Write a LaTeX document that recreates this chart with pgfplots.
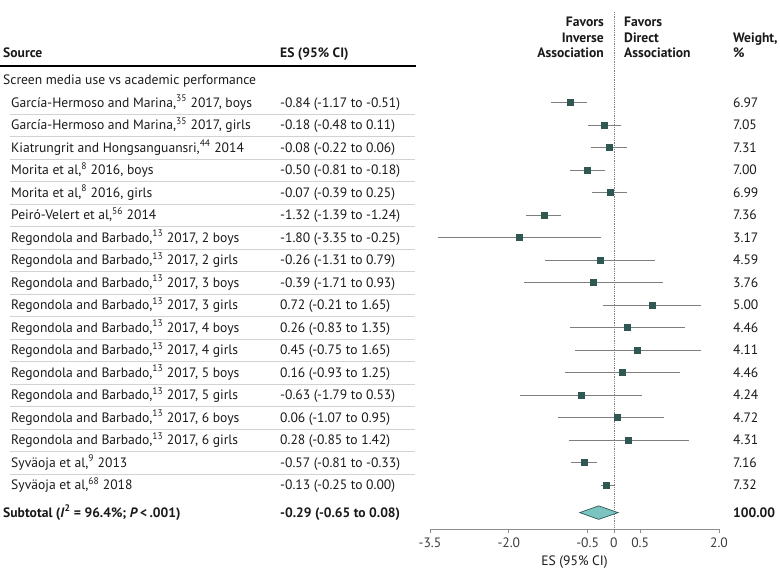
\documentclass[border=0pt]{standalone}
\usepackage{fontspec}
\setmainfont{PT Sans}
\usepackage{pgfplots}
\pgfplotsset{compat=1.18}
\usepackage{pgfplotstable}
\definecolor{sqcol}{HTML}{2F5853}
\definecolor{cicol}{HTML}{7E7E7E}
\definecolor{diafill}{HTML}{7CC4C2}
\definecolor{sepcol}{HTML}{D2D2D2}
\definecolor{axcol}{HTML}{8C8C8C}
\definecolor{txt}{HTML}{1A1A1A}
\newcommand\fs{\fontsize{13.6}{16}\selectfont}

% plotted values (as drawn in the figure)
\pgfplotstableread{
row es lo hi
1 -0.84 -1.19 -0.52
2 -0.18 -0.50 0.13
3 -0.09 -0.43 0.24
4 -0.50 -0.83 -0.17
5 -0.07 -0.41 0.25
6 -1.32 -1.68 -1.00
7 -1.80 -3.35 -0.25
8 -0.26 -1.31 0.79
9 -0.39 -1.71 0.93
10 0.72 -0.21 1.65
11 0.26 -0.83 1.35
12 0.45 -0.75 1.65
13 0.16 -0.93 1.25
14 -0.63 -1.79 0.53
15 0.06 -1.07 0.95
16 0.28 -0.85 1.42
17 -0.57 -0.81 -0.33
18 -0.14 -0.25 0.00
}\studies

\newcommand\studyrow[4]{%
  \node[anchor=base west] at (11,{495.3-22.5*#1}) {#2};
  \node[anchor=base west] at (280,{495.3-22.5*#1}) {#3};
  \node[anchor=base west] at (733,{495.3-22.5*#1}) {#4};}

\begin{document}
\begin{tikzpicture}[x=1pt,y=1pt,every node/.style={inner sep=0pt,font=\fs,text=txt}]
\useasboundingbox (0,0) rectangle (780,580);
\begin{axis}[
  at={(430pt,50.5pt)}, anchor=south west,
  scale only axis, width=289pt, height=529.5pt,
  xmin=-3.5, xmax=2.0, ymin=-19.97, ymax=3.564,
  axis x line*=bottom, axis y line=none,
  x axis line style={-, draw=axcol, line width=0.8pt},
  xtick={-3.5,-2,-0.5,0,0.5,2},
  xticklabels={-3.5,-2.0,-0.5,0,0.5,2.0},
  tick align=outside, major tick length=4pt,
  tick style={draw=axcol, line width=0.8pt},
  xticklabel style={font=\fs, text=txt!85, anchor=center, yshift=-9pt},
  xlabel={ES (95\% CI)},
  xlabel style={font=\fs, anchor=center, at={(axis description cs:0.5,0)}, yshift=-32.5pt},
  clip=false,
]
\addplot[densely dotted, draw=gray, line width=0.8pt, forget plot] coordinates {(0,-19.97) (0,3.03)};
\addplot[only marks, mark=square*, mark size=3pt, mark options={fill=sqcol, draw=sqcol},
  error bars/.cd, x dir=both, x explicit, error mark=none,
  error bar style={line width=0.9pt, draw=cicol}]
  table[x=es, y expr=-\thisrow{row},
        x error plus expr=\thisrow{hi}-\thisrow{es},
        x error minus expr=\thisrow{es}-\thisrow{lo}] {\studies};
\addplot[fill=diafill, draw=sqcol, line width=0.7pt] coordinates {(-0.65,-19.22) (-0.29,-18.92) (0.08,-19.22) (-0.29,-19.52)} -- cycle;
\end{axis}

% header
\node[anchor=base west] at (3,522.5) {\bfseries Source};
\node[anchor=base west] at (280,522.5) {\bfseries ES (95\% CI)};
\node[anchor=base east] at (604,553.5) {\bfseries Favors};
\node[anchor=base east] at (604,537.5) {\bfseries Inverse};
\node[anchor=base east] at (604,522.5) {\bfseries Association};
\node[anchor=base west] at (624,553.5) {\bfseries Favors};
\node[anchor=base west] at (624,537.5) {\bfseries Direct};
\node[anchor=base west] at (624,522.5) {\bfseries Association};
\node[anchor=base west] at (733,537.5) {\bfseries Weight,};
\node[anchor=base west] at (733,522.5) {\bfseries \%};
\draw[line width=1.2pt, black] (0,514) -- (416,514);
\node[anchor=base west] at (3,495.3) {Screen media use vs academic performance};

% separators
\foreach \k in {1,...,17} {\draw[sepcol, line width=0.8pt] (10,{488.55-22.5*\k}) -- (415,{488.55-22.5*\k});}

\studyrow{1}{García-Hermoso and Marina,\textsuperscript{35} 2017, boys}{-0.84 (-1.17 to -0.51)}{6.97}
\studyrow{2}{García-Hermoso and Marina,\textsuperscript{35} 2017, girls}{-0.18 (-0.48 to 0.11)}{7.05}
\studyrow{3}{Kiatrungrit and Hongsanguansri,\textsuperscript{44} 2014}{-0.08 (-0.22 to 0.06)}{7.31}
\studyrow{4}{Morita et al,\textsuperscript{8} 2016, boys}{-0.50 (-0.81 to -0.18)}{7.00}
\studyrow{5}{Morita et al,\textsuperscript{8} 2016, girls}{-0.07 (-0.39 to 0.25)}{6.99}
\studyrow{6}{Peiró-Velert et al,\textsuperscript{56} 2014}{-1.32 (-1.39 to -1.24)}{7.36}
\studyrow{7}{Regondola and Barbado,\textsuperscript{13} 2017, 2 boys}{-1.80 (-3.35 to -0.25)}{3.17}
\studyrow{8}{Regondola and Barbado,\textsuperscript{13} 2017, 2 girls}{-0.26 (-1.31 to 0.79)}{4.59}
\studyrow{9}{Regondola and Barbado,\textsuperscript{13} 2017, 3 boys}{-0.39 (-1.71 to 0.93)}{3.76}
\studyrow{10}{Regondola and Barbado,\textsuperscript{13} 2017, 3 girls}{0.72 (-0.21 to 1.65)}{5.00}
\studyrow{11}{Regondola and Barbado,\textsuperscript{13} 2017, 4 boys}{0.26 (-0.83 to 1.35)}{4.46}
\studyrow{12}{Regondola and Barbado,\textsuperscript{13} 2017, 4 girls}{0.45 (-0.75 to 1.65)}{4.11}
\studyrow{13}{Regondola and Barbado,\textsuperscript{13} 2017, 5 boys}{0.16 (-0.93 to 1.25)}{4.46}
\studyrow{14}{Regondola and Barbado,\textsuperscript{13} 2017, 5 girls}{-0.63 (-1.79 to 0.53)}{4.24}
\studyrow{15}{Regondola and Barbado,\textsuperscript{13} 2017, 6 boys}{0.06 (-1.07 to 0.95)}{4.72}
\studyrow{16}{Regondola and Barbado,\textsuperscript{13} 2017, 6 girls}{0.28 (-0.85 to 1.42)}{4.31}
\studyrow{17}{Syväoja et al,\textsuperscript{9} 2013}{-0.57 (-0.81 to -0.33)}{7.16}
\studyrow{18}{Syväoja et al,\textsuperscript{68} 2018}{-0.13 (-0.25 to 0.00)}{7.32}

% subtotal
\node[anchor=base west] at (3,62.85) {\bfseries Subtotal (\textit{I}\textsuperscript{2} = 96.4\%; \textit{P}\,<\,.001)};
\node[anchor=base west] at (280,62.85) {\bfseries -0.29 (-0.65 to 0.08)};
\node[anchor=base west] at (733,62.85) {\bfseries 100.00};
\end{tikzpicture}
\end{document}
